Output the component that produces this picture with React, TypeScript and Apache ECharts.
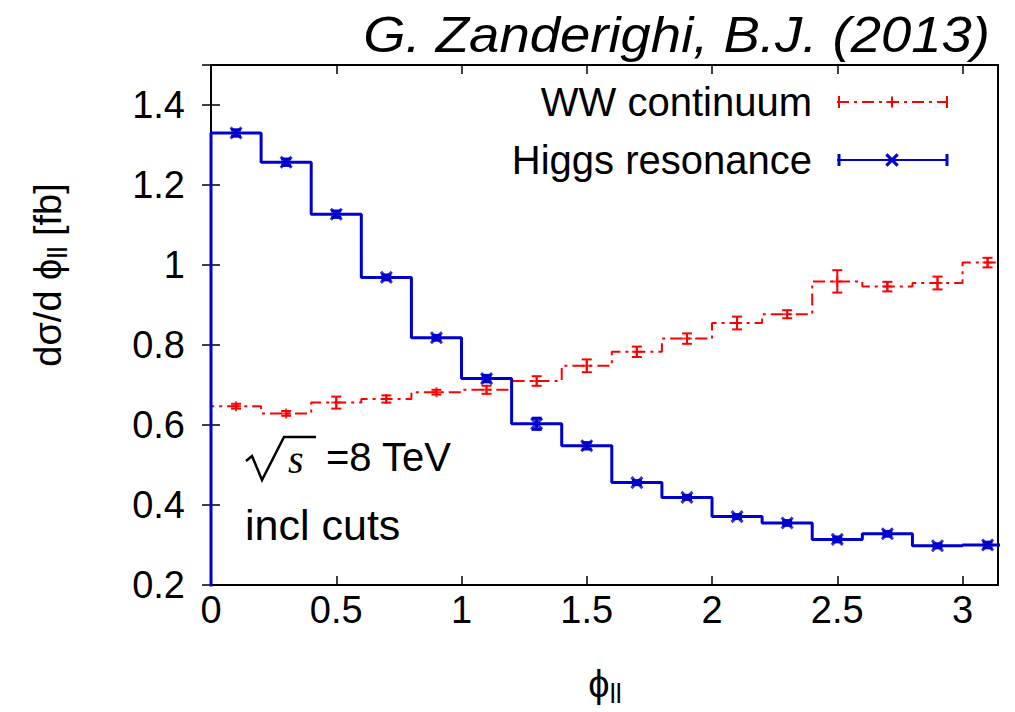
import React, { useEffect, useRef } from "react";
import * as echarts from "echarts";

const binEdges = [0, 0.2, 0.4, 0.6, 0.8, 1.0, 1.2, 1.4, 1.6, 1.8, 2.0, 2.2, 2.4, 2.6, 2.8, 3.0, 3.2];
const binCenters = [0.1, 0.3, 0.5, 0.7, 0.9, 1.1, 1.3, 1.5, 1.7, 1.9, 2.1, 2.3, 2.5, 2.7, 2.9, 3.1];
const higgsValues = [1.33, 1.257, 1.127, 0.969, 0.818, 0.716, 0.603, 0.548, 0.456, 0.419, 0.371, 0.355, 0.314, 0.328, 0.298, 0.3];
const higgsErrors = [0.008, 0.008, 0.008, 0.006, 0.006, 0.008, 0.014, 0.008, 0.005, 0.005, 0.005, 0.006, 0.006, 0.006, 0.005, 0.007];
const wwValues = [0.647, 0.629, 0.656, 0.665, 0.682, 0.688, 0.71, 0.748, 0.783, 0.816, 0.855, 0.877, 0.959, 0.946, 0.955, 1.006];
const wwErrors = [0.006, 0.006, 0.015, 0.009, 0.006, 0.01, 0.012, 0.016, 0.013, 0.013, 0.016, 0.01, 0.028, 0.012, 0.016, 0.012];
const seriesNames = ["WW continuum", "Higgs resonance"];
const titleText = "G. Zanderighi, B.J. (2013)";

const FONT = "Liberation Sans";
const RED = "#ff0000";
const BLUE = "#0000cd";

function stepData(values: number[]) {
  const pts: number[][] = [[binEdges[0], 0]];
  values.forEach((v, i) => {
    pts.push([binEdges[i], v], [binEdges[i + 1], v]);
  });
  return pts;
}

function errData(values: number[], errs: number[]) {
  return values.map((v, i) => [binCenters[i], v - errs[i], v + errs[i]]);
}

function errSeries(name: string, values: number[], errs: number[], color: string, width: number) {
  return {
    name,
    type: "custom",
    data: errData(values, errs),
    encode: { x: 0, y: [1, 2] },
    clip: true,
    z: 3,
    renderItem: (params: any, api: any) => {
      const x = api.value(0);
      const lo = api.coord([x, api.value(1)]);
      const hi = api.coord([x, api.value(2)]);
      const cap = 5;
      const style = { stroke: color, lineWidth: width };
      return {
        type: "group",
        children: [
          { type: "line", shape: { x1: lo[0], y1: lo[1], x2: hi[0], y2: hi[1] }, style },
          { type: "line", shape: { x1: lo[0] - cap, y1: lo[1], x2: lo[0] + cap, y2: lo[1] }, style },
          { type: "line", shape: { x1: hi[0] - cap, y1: hi[1], x2: hi[0] + cap, y2: hi[1] }, style },
        ],
      };
    },
  };
}

const PLUS = "path://M5,0L5,10M0,5L10,5";
const CROSS = "path://M0,0L10,10M0,10L10,0";

function legendCap(x: number, y: number, color: string, w: number) {
  return { type: "line", shape: { x1: x, y1: y - 6, x2: x, y2: y + 6 }, style: { stroke: color, lineWidth: w } };
}

type Piece = { t: string; size: number; dy: number };

function composedText(pieces: Piece[], x: number, y: number, rotation: number) {
  const canvas = document.createElement("canvas");
  const ctx = canvas.getContext("2d")!;
  const widths = pieces.map((p) => {
    ctx.font = `${p.size}px "${FONT}"`;
    return ctx.measureText(p.t).width;
  });
  const total = widths.reduce((a, b) => a + b, 0);
  let cx = -total / 2;
  const children = pieces.map((p, i) => {
    const el = {
      type: "text",
      x: cx,
      y: p.dy,
      style: { text: p.t, font: `${p.size}px "${FONT}"`, fill: "#000", align: "left", verticalAlign: "middle" },
    };
    cx += widths[i];
    return el;
  });
  return { type: "group", x, y, rotation, children };
}

export default function App() {
  const ref = useRef<HTMLDivElement>(null);
  useEffect(() => {
    document.body.style.margin = "0";
    if (!ref.current) return;
    const chart = echarts.init(ref.current, undefined, { renderer: "svg" });
    const tickStyle = { show: true, inside: true, length: 9, lineStyle: { color: "#000", width: 1.5 } };
    const xFmt = (v: number) => (Math.abs(v * 2 - Math.round(v * 2)) > 1e-6 ? "" : String(+v.toFixed(1)));
    const yFmt = (v: number) => (v > 1.45 ? "" : String(+v.toFixed(1)));
    chart.setOption({
      animation: false,
      grid: { left: 211, right: 17, top: 65, bottom: 127, show: true, borderColor: "#000", borderWidth: 2, backgroundColor: "transparent" },
      xAxis: [
        {
          type: "value", min: 0, max: Math.PI, interval: 0.5, position: "bottom",
          axisLine: { show: false }, axisTick: tickStyle, splitLine: { show: false },
          axisLabel: { formatter: xFmt, fontFamily: FONT, fontSize: 38, color: "#000", margin: 6 },
        },
        {
          type: "value", min: 0, max: Math.PI, interval: 0.5, position: "top",
          axisLine: { show: false }, axisTick: tickStyle, splitLine: { show: false }, axisLabel: { show: false },
        },
      ],
      yAxis: [
        {
          type: "value", min: 0.2, max: 1.5, interval: 0.2, position: "left",
          axisLine: { show: false }, axisTick: tickStyle, splitLine: { show: false },
          axisLabel: { formatter: yFmt, fontFamily: FONT, fontSize: 38, color: "#000", margin: 26 },
        },
        {
          type: "value", min: 0.2, max: 1.5, interval: 0.2, position: "right",
          axisLine: { show: false }, axisTick: tickStyle, splitLine: { show: false }, axisLabel: { show: false },
        },
      ],
      legend: {
        data: [
          { name: seriesNames[0], itemStyle: { color: "none", borderColor: RED, borderWidth: 2 } },
          { name: seriesNames[1], itemStyle: { color: "none", borderColor: BLUE, borderWidth: 3 } },
        ],
        orient: "vertical", right: 67, top: 82, align: "right", padding: 0,
        itemWidth: 110, itemHeight: 14, itemGap: 18, selectedMode: false,
        textStyle: { fontFamily: FONT, fontSize: 40, color: "#000", padding: [0, 20, 0, 0] },
      },
      series: [
        {
          name: seriesNames[0], type: "line", data: stepData(wwValues), symbol: PLUS, symbolSize: 12, showSymbol: false,
          lineStyle: { color: RED, width: 2, type: [12, 5, 3, 5] }, itemStyle: { color: RED }, clip: true, z: 2,
        },
        errSeries(seriesNames[0], wwValues, wwErrors, RED, 2),
        {
          name: seriesNames[0], type: "scatter", data: binCenters.map((c, i) => [c, wwValues[i]]), symbol: PLUS, symbolSize: 10,
          itemStyle: { color: "none", borderColor: RED, borderWidth: 2 }, clip: true, z: 3,
        },
        {
          name: seriesNames[1], type: "line", data: stepData(higgsValues), symbol: CROSS, symbolSize: 12, showSymbol: false,
          lineStyle: { color: BLUE, width: 3 }, itemStyle: { color: BLUE }, clip: true, z: 4,
        },
        errSeries(seriesNames[1], higgsValues, higgsErrors, BLUE, 3),
        {
          name: seriesNames[1], type: "scatter", data: binCenters.map((c, i) => [c, higgsValues[i]]), symbol: CROSS, symbolSize: 11,
          itemStyle: { color: "none", borderColor: BLUE, borderWidth: 3 }, clip: true, z: 5,
        },
      ],
      graphic: [
        {
          type: "text", x: 990, y: 35, scaleX: 1.09,
          style: { text: titleText, font: `italic 50px "${FONT}"`, fill: "#000", align: "right", verticalAlign: "middle" },
        },
        composedText(
          [
            { t: "dσ/d ϕ", size: 38, dy: 0 },
            { t: "ll", size: 27, dy: 10 },
            { t: " [fb]", size: 38, dy: 0 },
          ],
          48, 275, Math.PI / 2
        ),
        composedText(
          [
            { t: "ϕ", size: 38, dy: 0 },
            { t: "ll", size: 27, dy: 10 },
          ],
          605, 684, 0
        ),
        legendCap(839, 102, RED, 2),
        legendCap(947, 102, RED, 2),
        legendCap(839, 160, BLUE, 3),
        legendCap(947, 160, BLUE, 3),
        {
          type: "polyline",
          shape: { points: [[246, 461], [252, 456], [262, 480], [284, 437], [316, 437]] },
          style: { stroke: "#000", lineWidth: 2.5, fill: "none" },
        },
        {
          type: "text", x: 288, y: 459,
          style: { text: "s", font: `italic 40px "Liberation Serif"`, fill: "#000", align: "left", verticalAlign: "middle" },
        },
        {
          type: "text", x: 326, y: 457,
          style: { text: "=8 TeV", font: `40px "${FONT}"`, fill: "#000", align: "left", verticalAlign: "middle" },
        },
        {
          type: "text", x: 245, y: 525,
          style: { text: "incl cuts", font: `43px "${FONT}"`, fill: "#000", align: "left", verticalAlign: "middle" },
        },
      ],
    });
    return () => chart.dispose();
  }, []);
  return <div ref={ref} style={{ width: 1015, height: 712 }} />;
}
